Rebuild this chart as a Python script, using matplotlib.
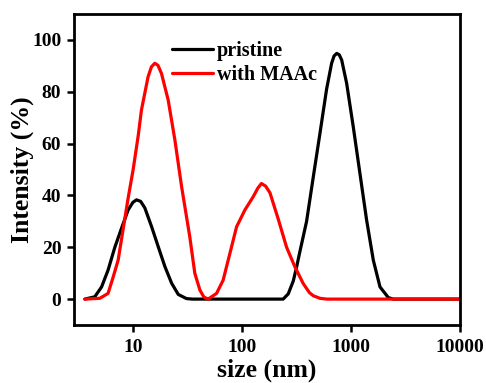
import numpy as np
import matplotlib
matplotlib.use("Agg")
import matplotlib.pyplot as plt

# pristine (black)
pristine_size = [3.63, 4.48, 5.17, 5.93, 6.84, 7.87, 9.06, 10.0, 10.8, 11.8, 12.88, 14.85, 17.1, 19.7, 22.7,
                 26.1, 31, 35, 100, 239, 266, 296, 318, 339, 392, 451, 520, 598, 665, 700, 740, 780,
                 822, 913, 1050, 1209, 1392, 1604, 1847, 2199, 2443, 10000]
pristine_int = [0, 0.9, 4.7, 11.2, 20, 27.3, 34.4, 37.3, 38.3, 37.7, 35.2, 28, 20.2, 12.5, 6.1,
                1.8, 0.2, 0, 0, 0, 2.0, 7, 12.5, 18, 30, 47, 64, 81, 91, 93.8, 94.8, 94.3,
                92.3, 83.3, 66.5, 48.5, 30.5, 15, 4.7, 0.6, 0, 0]

# with MAAc (red)
maac_size = [3.63, 4.98, 5.93, 6.6, 7.33, 8.15, 9.06, 10.07, 11.2, 12.0, 13.8, 14.8, 15.9, 17.0, 18.3,
             21.1, 24.3, 28, 33.3, 37, 41.2, 44.8, 49, 58.6, 67.3, 77.6, 89.4, 106.6, 127, 140, 151,
             165, 181, 215, 257, 306, 365, 416, 451, 520, 600, 10000]
maac_int = [0, 0.3, 2.2, 8.5, 15, 27, 39, 50, 63, 73, 85.8, 89.6, 91, 90.2, 87.1,
            76.8, 61.4, 43.4, 24, 10, 3.5, 0.8, 0, 2.2, 7.3, 17.6, 27.9, 34.4, 39.5, 42.8, 44.6,
            43.6, 41, 31, 20, 12.5, 6, 2.5, 1.3, 0.3, 0, 0]

series_labels = ["pristine", "with MAAc"]
xticks = [10, 100, 1000, 10000]
xticklabels = ["10", "100", "1000", "10000"]
yticks = [0, 20, 40, 60, 80, 100]

plt.rcParams['font.family'] = ['Liberation Serif', 'DejaVu Serif']
plt.rcParams['font.weight'] = 'bold'

fig = plt.figure(figsize=(4.86, 3.83), dpi=100)
ax = fig.add_axes([0.152, 0.1514, 0.7945, 0.812])

ax.plot(pristine_size, pristine_int, color='black', lw=2.3, label=series_labels[0],
        solid_joinstyle='round', solid_capstyle='round')
ax.plot(maac_size, maac_int, color='#ff0000', lw=2.3, label=series_labels[1],
        solid_joinstyle='round', solid_capstyle='round')

ax.set_xscale('log')
ax.set_xlim(2.88, 10000)
ax.set_ylim(-10, 110)
ax.set_xticks(xticks)
ax.set_xticklabels(xticklabels)
ax.xaxis.set_minor_locator(matplotlib.ticker.NullLocator())
ax.set_yticks(yticks)

for s in ax.spines.values():
    s.set_linewidth(2.0)

ax.tick_params(axis='both', which='major', direction='out', length=5, width=1.8,
               labelsize=14, pad=4, top=False, right=False)
ax.tick_params(axis='x', pad=5)
for lab in ax.get_xticklabels() + ax.get_yticklabels():
    lab.set_fontweight('bold')

ax.set_xlabel("size (nm)", fontsize=18.5, fontweight='bold', labelpad=2)
ax.set_ylabel("Intensity (%)", fontsize=18.5, fontweight='bold', labelpad=-1)

leg = ax.legend(loc='upper left', bbox_to_anchor=(0.255, 0.912), frameon=False,
                prop={'family': 'Liberation Serif', 'weight': 'bold', 'size': 14.5},
                handlelength=2.0, handletextpad=0.2, labelspacing=0.2,
                borderpad=0, borderaxespad=0)

fig.savefig("out.png", dpi=100)
